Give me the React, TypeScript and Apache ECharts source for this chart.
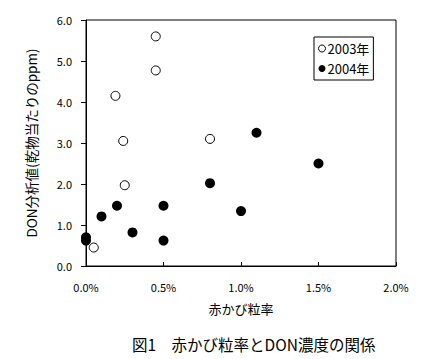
import React, { useEffect, useRef } from "react";
import * as echarts from "echarts";

const xTicks = [0, 0.5, 1.0, 1.5, 2.0];
const yTicks = [0, 1, 2, 3, 4, 5, 6];

const series2003X = [0.45, 0.45, 0.19, 0.24, 0.8, 0.25, 0.05];
const series2003Y = [5.6, 4.77, 4.15, 3.05, 3.1, 1.97, 0.45];

const series2004X = [0.0, 0.0, 0.1, 0.2, 0.3, 0.5, 0.5, 0.8, 1.0, 1.1, 1.5];
const series2004Y = [0.7, 0.62, 1.21, 1.47, 0.82, 1.47, 0.62, 2.02, 1.34, 3.25, 2.5];

const names = ["2003年", "2004年"];
const FONT = "'Noto Sans CJK JP', sans-serif";

export default function App() {
  const ref = useRef<HTMLDivElement>(null);
  useEffect(() => {
    if (!ref.current) return;
    const chart = echarts.init(ref.current, null, { renderer: "svg" });
    const d2003 = series2003X.map((x, i) => [x, series2003Y[i]]);
    const d2004 = series2004X.map((x, i) => [x, series2004Y[i]]);
    chart.setOption({
      animation: false,
      backgroundColor: "#fff",
      textStyle: { fontFamily: FONT, color: "#000" },
      title: {
        text: "図1　赤かび粒率とDON濃度の関係",
        left: 127,
        top: 331,
        textStyle: { fontFamily: FONT, fontSize: 15.5, fontWeight: "normal", color: "#000" },
      },
      legend: {
        orient: "vertical",
        left: 314,
        top: 37,
        padding: [5, 4, 5, 4],
        itemGap: 7,
        itemWidth: 7,
        itemHeight: 7,
        borderColor: "#000",
        borderWidth: 1,
        borderRadius: 0,
        textStyle: { fontFamily: FONT, fontSize: 13, color: "#000", padding: [0, 0, 0, -3] },
        data: [
          { name: names[0], icon: "circle", itemStyle: { color: "#fff", borderColor: "#000", borderWidth: 1 } },
          { name: names[1], icon: "circle", itemStyle: { color: "#000", borderWidth: 0 } },
        ],
      },
      grid: {
        left: 86,
        top: 20,
        right: 32,
        bottom: 93,
        show: true,
        borderColor: "#000",
        borderWidth: 1,
        backgroundColor: "#fff",
      },
      xAxis: {
        type: "value",
        min: xTicks[0],
        max: xTicks[xTicks.length - 1],
        interval: 0.5,
        name: "赤かび粒率",
        nameLocation: "middle",
        nameGap: 36,
        nameTextStyle: { fontFamily: FONT, fontSize: 13, color: "#000" },
        axisLine: { show: true, lineStyle: { color: "#000", width: 1 } },
        axisTick: { show: true, inside: true, length: 4, lineStyle: { color: "#000" } },
        splitLine: { show: false },
        axisLabel: {
          margin: 15,
          fontFamily: FONT,
          fontSize: 11,
          color: "#000",
          formatter: (v: number) => v.toFixed(1) + "%",
        },
      },
      yAxis: {
        type: "value",
        min: yTicks[0],
        max: yTicks[yTicks.length - 1],
        interval: 1,
        name: "DON分析値(乾物当たりのppm)",
        nameLocation: "middle",
        nameGap: 48,
        nameRotate: 90,
        nameTextStyle: { fontFamily: FONT, fontSize: 13.5, color: "#000" },
        axisLine: { show: true, lineStyle: { color: "#000", width: 1 } },
        axisTick: { show: true, inside: false, length: 5, lineStyle: { color: "#000" } },
        splitLine: { show: false },
        axisLabel: {
          margin: 14,
          fontFamily: FONT,
          fontSize: 11,
          color: "#000",
          formatter: (v: number) => v.toFixed(1),
        },
      },
      series: [
        {
          name: names[0],
          type: "scatter",
          clip: false,
          symbol: "circle",
          symbolSize: 9,
          itemStyle: { color: "#fff", borderColor: "#000", borderWidth: 1, opacity: 1 },
          data: d2003,
          z: 3,
        },
        {
          name: names[1],
          type: "scatter",
          clip: false,
          symbol: "circle",
          symbolSize: 10,
          itemStyle: { color: "#000", borderColor: "#000", borderWidth: 0, opacity: 1 },
          data: d2004,
          z: 4,
        },
      ],
    });
    return () => chart.dispose();
  }, []);
  return (
    <div
      ref={ref}
      style={{ position: "fixed", left: 0, top: 0, width: 428, height: 359 }}
    />
  );
}
